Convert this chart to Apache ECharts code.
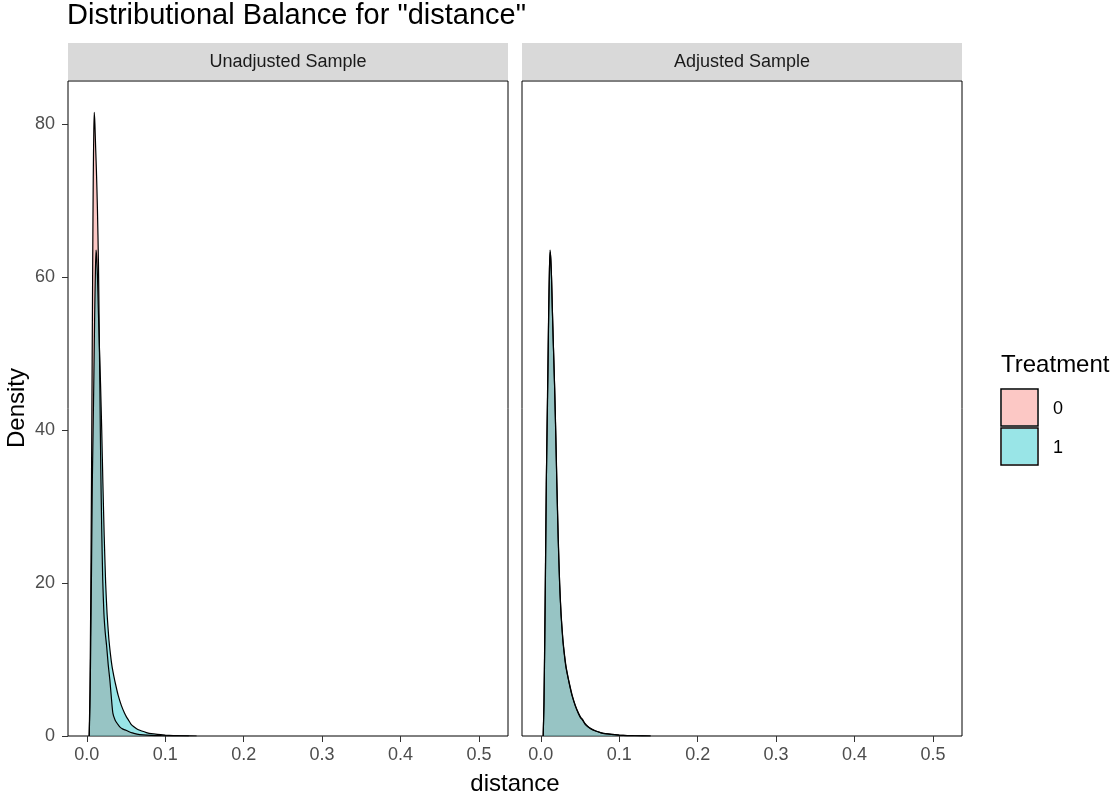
<!DOCTYPE html>
<html>
<head>
<meta charset="utf-8">
<script src="https://cdn.jsdelivr.net/npm/echarts@6/dist/echarts.min.js"></script>
<style>
html,body{margin:0;padding:0;background:#fff;}
#chart{width:1117px;height:798px;}
</style>
</head>
<body>
<div id="chart"></div>
<script>
// ---- data ----
const panelTitles = ["Unadjusted Sample", "Adjusted Sample"];
const groupLabels = ["0", "1"];
const xTicks = [0, 0.1, 0.2, 0.3, 0.4, 0.5];
const yTicks = [0, 20, 40, 60, 80];

// control group (0), unadjusted
const ctrlUnadjX = [0.0030,0.0040,0.0050,0.0060,0.0068,0.0075,0.0082,0.0089,0.0095,0.0103,0.0112,0.0122,0.0135,0.0148,0.0158,0.0168,0.0178,0.0190,0.0203,0.0218,0.0235,0.0253,0.0273,0.0294,0.0313,0.0332,0.0360,0.0390,0.0420,0.0460,0.0500,0.0540,0.0580,0.0640,0.0720,0.0820,0.0950,0.1100,0.1300];
const ctrlUnadjY = [0,6,18,34,49,62,73,79,81.5,80,77,74,69,62,53,44,35,27,20.4,16,13.5,11.7,9.3,7.3,5.0,3.0,2.1,1.6,1.2,0.9,0.75,0.55,0.4,0.25,0.15,0.08,0.04,0.01,0];

// treated group (1), same in both panels
const trtX = [0.0030,0.0040,0.0050,0.0060,0.0070,0.0080,0.0090,0.0100,0.0110,0.0118,0.0126,0.0136,0.0146,0.0160,0.0175,0.0190,0.0205,0.0222,0.0240,0.0258,0.0280,0.0300,0.0320,0.0345,0.0370,0.0400,0.0440,0.0480,0.0505,0.0530,0.0560,0.0600,0.0650,0.0700,0.0760,0.0820,0.0900,0.1000,0.1100,0.1200,0.1400];
const trtY = [0,4,12,22,33,40,47,55,61,63.5,62.5,60,56,51,46,40,33,26,20,16,12.8,10.8,9.2,7.8,6.6,5.3,4.0,3.0,2.5,2.1,1.6,1.2,0.85,0.65,0.45,0.3,0.2,0.12,0.06,0.03,0];

// control group (0), adjusted (weighted)
const ctrlAdjX = [0.0030,0.0040,0.0050,0.0060,0.0070,0.0080,0.0090,0.0100,0.0110,0.0120,0.0128,0.0138,0.0148,0.0162,0.0176,0.0190,0.0205,0.0222,0.0240,0.0258,0.0280,0.0300,0.0320,0.0345,0.0370,0.0400,0.0440,0.0480,0.0505,0.0530,0.0560,0.0600,0.0650,0.0700,0.0760,0.0820,0.0900,0.1000,0.1100,0.1200,0.1400];
const ctrlAdjY = [0,4.5,13,23,33,41,48,55.5,61,63.2,62.2,59.5,55.5,50.5,45.5,39.5,32.5,25.5,19.8,15.8,12.6,10.6,9.0,7.7,6.5,5.2,3.9,2.9,2.4,2.2,1.7,1.25,0.9,0.65,0.45,0.3,0.2,0.12,0.06,0.03,0];

// ---- build ----
const zip = (xs, ys) => xs.map((x, i) => [x, ys[i]]);
const FONT = "Liberation Sans, Arial, sans-serif";
const fill0 = "#F8766D", fill1 = "#00BFC4";

const gridL = 68, gridW = 440, gap = 14, gridTop = 81, gridH = 655;
const grids = [0, 1].map(i => ({
  left: gridL + i * (gridW + gap), top: gridTop, width: gridW, height: gridH,
  show: true, borderColor: "#000", borderWidth: 1, backgroundColor: "#fff", containLabel: false
}));

const xAxes = [0, 1].map(i => ({
  gridIndex: i, type: "value", min: -0.024, max: 0.537,
  splitLine: { show: false }, axisLine: { show: false, onZero: false },
  axisTick: { show: true, length: 6, lineStyle: { color: "#333", width: 1 }, customValues: xTicks },
  axisLabel: { customValues: xTicks, formatter: v => v.toFixed(1), color: "#4D4D4D", fontSize: 18, fontFamily: FONT, margin: 10 }
}));

const yAxes = [0, 1].map(i => ({
  gridIndex: i, type: "value", min: 0, max: 85.6,
  splitLine: { show: false }, axisLine: { show: false, onZero: false },
  axisTick: { show: i === 0, length: 6, lineStyle: { color: "#333", width: 1 }, customValues: yTicks },
  axisLabel: { show: i === 0, customValues: yTicks, color: "#4D4D4D", fontSize: 18, fontFamily: FONT, margin: 13 }
}));

function areaSeries(idx, data, color) {
  return {
    type: "line", xAxisIndex: idx, yAxisIndex: idx, data: data,
    showSymbol: false, smooth: 0.2, silent: true,
    lineStyle: { color: "#000", width: 1.2 },
    areaStyle: { color: color, opacity: 0.4 }
  };
}

const series = [
  areaSeries(0, zip(ctrlUnadjX, ctrlUnadjY), fill0),
  areaSeries(0, zip(trtX, trtY), fill1),
  areaSeries(1, zip(ctrlAdjX, ctrlAdjY), fill0),
  areaSeries(1, zip(trtX, trtY), fill1)
];

const graphics = [];
// title
graphics.push({ type: "text", x: 67, y: 16, style: { text: 'Distributional Balance for "distance"', font: "29px " + FONT, fill: "#000", textVerticalAlign: "middle" } });
// strips
panelTitles.forEach((t, i) => {
  const x0 = gridL + i * (gridW + gap);
  graphics.push({ type: "rect", shape: { x: x0, y: 43, width: gridW, height: 37 }, style: { fill: "#D9D9D9" } });
  graphics.push({ type: "text", x: x0 + gridW / 2, y: 62, style: { text: t, font: "18px " + FONT, fill: "#1A1A1A", textAlign: "center", textVerticalAlign: "middle" } });
});
// axis titles
graphics.push({ type: "text", x: 17, y: 408, rotation: Math.PI / 2, style: { text: "Density", font: "24px " + FONT, fill: "#000", textAlign: "center", textVerticalAlign: "middle" } });
graphics.push({ type: "text", x: 515, y: 784, style: { text: "distance", font: "24px " + FONT, fill: "#000", textAlign: "center", textVerticalAlign: "middle" } });
// legend
graphics.push({ type: "text", x: 1001, y: 365, style: { text: "Treatment", font: "24px " + FONT, fill: "#000", textVerticalAlign: "middle" } });
[fill0, fill1].forEach((c, i) => {
  const y0 = 389 + i * 39;
  graphics.push({ type: "rect", shape: { x: 1001, y: y0, width: 37, height: 37 }, style: { fill: "#fff", stroke: "#000", lineWidth: 1.5 } });
  graphics.push({ type: "rect", shape: { x: 1002, y: y0 + 1, width: 35, height: 35 }, style: { fill: c, opacity: 0.4 } });
  graphics.push({ type: "text", x: 1053, y: y0 + 20, style: { text: groupLabels[i], font: "18px " + FONT, fill: "#000", textVerticalAlign: "middle" } });
});

const chart = echarts.init(document.getElementById("chart"), null, { renderer: "canvas" });
chart.setOption({
  animation: false,
  backgroundColor: "#fff",
  textStyle: { fontFamily: FONT },
  grid: grids, xAxis: xAxes, yAxis: yAxes, series: series, graphic: graphics
});
</script>
</body>
</html>
